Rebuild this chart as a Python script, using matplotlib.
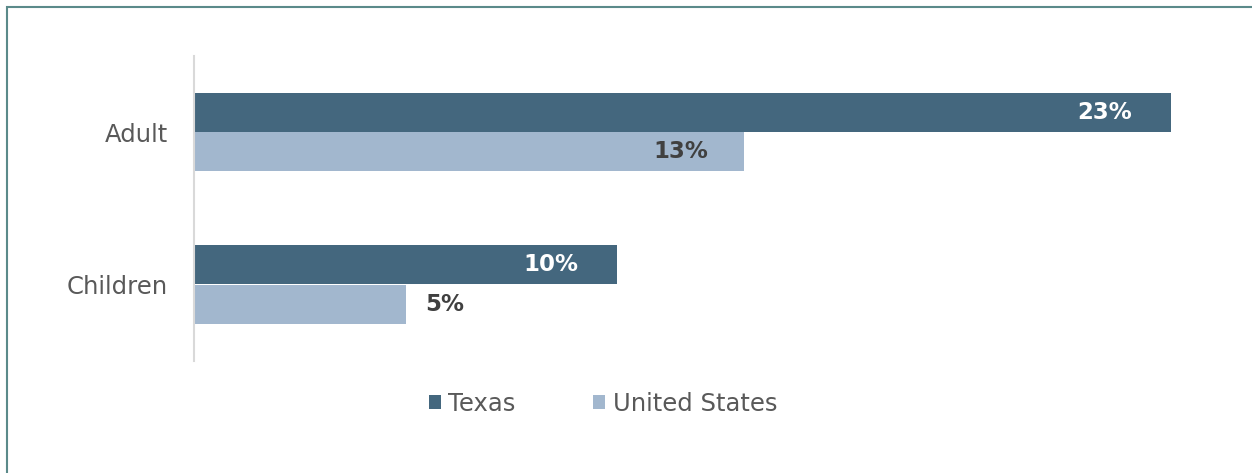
import matplotlib
matplotlib.use("Agg")
import matplotlib.pyplot as plt
from matplotlib.patches import Rectangle
import numpy as np

# data
categories = ["Adult", "Children"]
texas = [23.1, 10.0]
united_states = [13.0, 5.0]
series_names = ["Texas", "United States"]

texas_color = "#44677e"
us_color = "#a2b7ce"

plt.rcParams["font.family"] = ["DejaVu Sans"]

fig = plt.figure(figsize=(12.52, 4.73), dpi=100)
ax = fig.add_axes([0.155, 0.237, 0.811, 0.645])

y = np.arange(len(categories))
bar_h = 0.255
ax.barh(y - 0.13, texas, height=bar_h, color=texas_color, label=series_names[0])
ax.barh(y + 0.13, united_states, height=bar_h, color=us_color, label=series_names[1])

# data labels
for yi, v in zip(y, texas):
    ax.annotate("%.0f%%" % v, (v, yi - 0.13), xytext=(-28, 0), textcoords="offset points",
                ha="right", va="center", color="white", fontsize=16.5, fontweight="bold")
for yi, v in zip(y, united_states):
    if v > 8:
        ax.annotate("%.0f%%" % v, (v, yi + 0.13), xytext=(-26, 0), textcoords="offset points",
                    ha="right", va="center", color="#404040", fontsize=16.5, fontweight="bold")
    else:
        ax.annotate("%.0f%%" % v, (v, yi + 0.13), xytext=(14, 0), textcoords="offset points",
                    ha="left", va="center", color="#404040", fontsize=16.5, fontweight="bold")

ax.set_xlim(0, 24)
ax.set_ylim(1.5, -0.5)
ax.set_yticks(y)
ax.set_yticklabels(categories, fontsize=17.5, color="#595959")
ax.tick_params(axis="y", length=0, pad=19)
ax.set_xticks([])
for s in ["top", "right", "bottom"]:
    ax.spines[s].set_visible(False)
ax.spines["left"].set_color("#d9d9d9")
ax.spines["left"].set_linewidth(1.5)

handles, labels = ax.get_legend_handles_labels()
leg = fig.legend(handles, labels, loc="center", bbox_to_anchor=(603 / 1252, 0.146), ncol=2,
                 frameon=False, fontsize=17.5, handlelength=0.5, handleheight=0.5,
                 handletextpad=0.3, columnspacing=3.2)
for t in leg.get_texts():
    t.set_color("#595959")

# outer frame
fig.add_artist(Rectangle((7 / 1252, -0.1), 2, 1.1 - 7 / 473, transform=fig.transFigure,
                         facecolor="none", edgecolor="#5b8a8a", linewidth=1.5, clip_on=False))

plt.savefig("out.png", dpi=100)
